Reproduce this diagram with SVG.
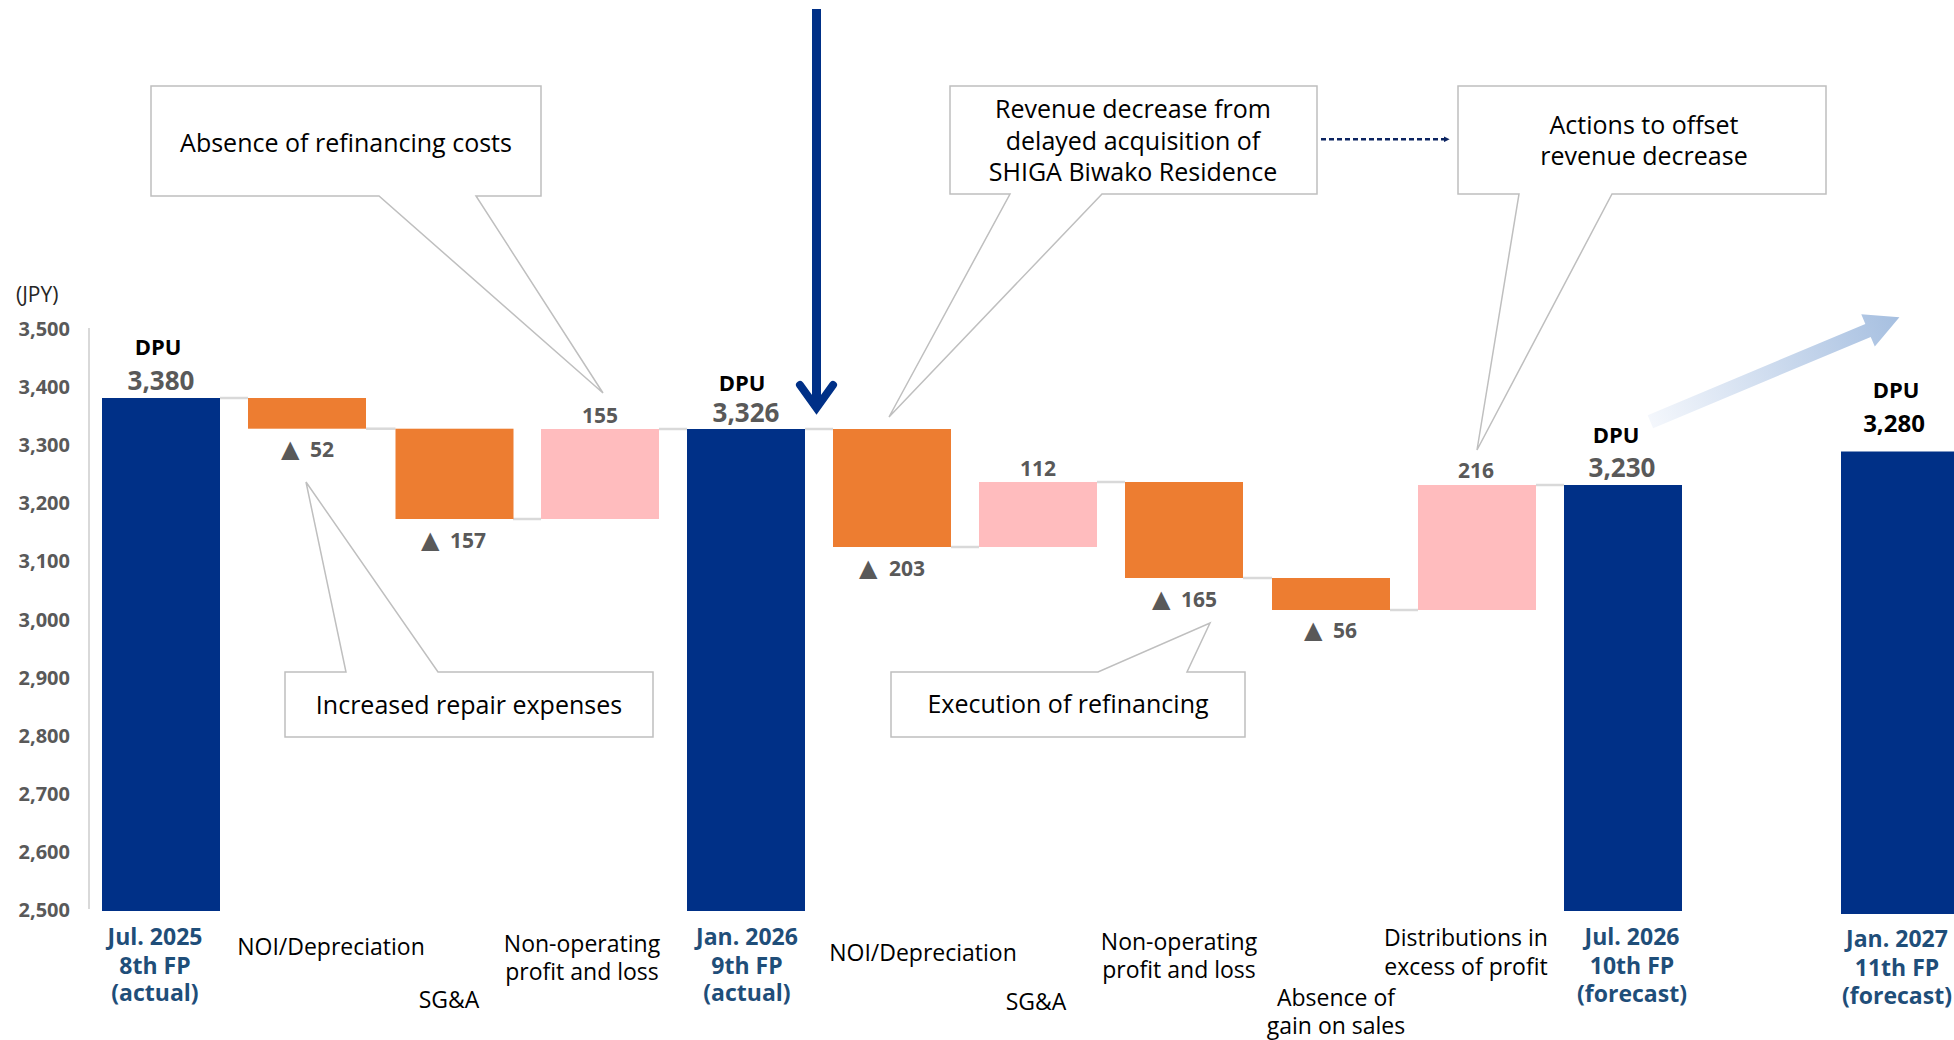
<svg xmlns="http://www.w3.org/2000/svg" width="1954" height="1040" viewBox="0 0 1954 1040">
<style>
text{font-family:'Open Sans','Noto Sans','DejaVu Sans',sans-serif}
.ax{font-size:20px;font-weight:700;fill:#595959;text-anchor:end}
.navy{fill:#003087}
.org{fill:#ED7D31}
.pink{fill:#FFBCBE}
.val{font-size:21px;font-weight:700;fill:#595959}
.tri{font-family:'DejaVu Sans',sans-serif;font-size:24px;fill:#595959}
.dpu{font-size:22px;font-weight:700;fill:#000;text-anchor:middle}
.dpuv{font-size:26px;font-weight:700;fill:#595959;text-anchor:middle}
.cat{font-size:23px;font-weight:700;fill:#1F4E79;text-anchor:middle}
.lbl{font-size:23px;fill:#000;text-anchor:middle}
.co{fill:#fff;stroke:#BFBFBF;stroke-width:1.5}
.cot{font-size:25px;fill:#000;text-anchor:middle}
.step{stroke:#D9D9D9;stroke-width:2.5}
</style>
<defs>
<marker id="dh" viewBox="0 0 10 10" refX="9" refY="5" markerWidth="6" markerHeight="6" markerUnits="userSpaceOnUse" orient="auto">
<path d="M0,0 L10,5 L0,10 Z" fill="#0C2461"/>
</marker>
<linearGradient id="gr" x1="0" y1="0" x2="1" y2="0">
<stop offset="0" stop-color="#F4F7FC"/>
<stop offset="1" stop-color="#A6BFE0"/>
</linearGradient>
</defs>
<rect width="1954" height="1040" fill="#fff"/>

<g id="axis">
<line x1="89" y1="328" x2="89" y2="909" stroke="#D9D9D9" stroke-width="2"/>
<text x="16" y="302" font-size="21" fill="#262626">(JPY)</text>
<text class="ax" x="70" y="336">3,500</text>
<text class="ax" x="70" y="394">3,400</text>
<text class="ax" x="70" y="452">3,300</text>
<text class="ax" x="70" y="510">3,200</text>
<text class="ax" x="70" y="568">3,100</text>
<text class="ax" x="70" y="627">3,000</text>
<text class="ax" x="70" y="685">2,900</text>
<text class="ax" x="70" y="743">2,800</text>
<text class="ax" x="70" y="801">2,700</text>
<text class="ax" x="70" y="859">2,600</text>
<text class="ax" x="70" y="917">2,500</text>
</g>

<g id="connectors">
<line class="step" x1="220" y1="398" x2="248" y2="398"/>
<line class="step" x1="366" y1="428.7" x2="395.5" y2="428.7"/>
<line class="step" x1="513" y1="519" x2="541" y2="519"/>
<line class="step" x1="659" y1="429" x2="687" y2="429"/>
<line class="step" x1="805" y1="429" x2="833" y2="429"/>
<line class="step" x1="951" y1="547" x2="979" y2="547"/>
<line class="step" x1="1097" y1="482" x2="1125" y2="482"/>
<line class="step" x1="1243" y1="578" x2="1272" y2="578"/>
<line class="step" x1="1390" y1="610" x2="1418" y2="610"/>
<line class="step" x1="1536" y1="485" x2="1564" y2="485"/>
<line x1="1321" y1="139.3" x2="1449" y2="139.3" stroke="#0C2461" stroke-width="2.5" stroke-dasharray="5 3" marker-end="url(#dh)"/>
<g id="down-arrow">
<line x1="816.5" y1="9" x2="816.5" y2="406" stroke="#003087" stroke-width="9"/>
<polyline points="800,385 816.5,408 833,385" fill="none" stroke="#003087" stroke-width="8" stroke-linecap="round" stroke-linejoin="miter"/>
</g>
<polygon transform="translate(1650.4,421.7) rotate(-22.75)" points="0,-7 236,-7 236,-17.5 270,0 236,17.5 236,7 0,7" fill="url(#gr)"/>
</g>

<g id="bar-jul2025">
<rect class="navy" x="102" y="398" width="118" height="513"/>
<text class="dpu" x="158" y="355">DPU</text>
<text class="dpuv" x="161" y="390">3,380</text>
<text class="cat" x="155"><tspan x="155" y="945">Jul. 2025</tspan><tspan x="155" y="973.5">8th FP</tspan><tspan x="155" y="1001">(actual)</tspan></text>
</g>
<g id="bar-noi1">
<rect class="org" x="248" y="398" width="118" height="30.7"/>
<text class="tri" x="281" y="457">▲</text><text class="val" x="310" y="457">52</text>
<text class="lbl" x="331" y="955">NOI/Depreciation</text>
</g>
<g id="bar-sga1">
<rect class="org" x="395.5" y="428.7" width="118" height="90.3"/>
<text class="tri" x="421" y="548">▲</text><text class="val" x="450" y="548">157</text>
<text class="lbl" x="449" y="1008">SG&amp;A</text>
</g>
<g id="bar-nonop1">
<rect class="pink" x="541" y="429" width="118" height="90"/>
<text class="val" x="600" y="423" text-anchor="middle">155</text>
<text class="lbl" x="582"><tspan x="582" y="952">Non-operating</tspan><tspan x="582" y="980">profit and loss</tspan></text>
</g>
<g id="bar-jan2026">
<rect class="navy" x="687" y="429" width="118" height="482"/>
<text class="dpu" x="742" y="391">DPU</text>
<text class="dpuv" x="746" y="422">3,326</text>
<text class="cat" x="747"><tspan x="747" y="945">Jan. 2026</tspan><tspan x="747" y="973.5">9th FP</tspan><tspan x="747" y="1001">(actual)</tspan></text>
</g>
<g id="bar-noi2">
<rect class="org" x="833" y="429" width="118" height="118"/>
<text class="tri" x="859" y="576">▲</text><text class="val" x="889" y="576">203</text>
<text class="lbl" x="923" y="961">NOI/Depreciation</text>
</g>
<g id="bar-sga2">
<rect class="pink" x="979" y="482" width="118" height="65"/>
<text class="val" x="1038" y="476" text-anchor="middle">112</text>
<text class="lbl" x="1036" y="1010">SG&amp;A</text>
</g>
<g id="bar-nonop2">
<rect class="org" x="1125" y="482" width="118" height="96"/>
<text class="tri" x="1152" y="607">▲</text><text class="val" x="1181" y="607">165</text>
<text class="lbl" x="1179"><tspan x="1179" y="950">Non-operating</tspan><tspan x="1179" y="978">profit and loss</tspan></text>
</g>
<g id="bar-gain">
<rect class="org" x="1272" y="578" width="118" height="32"/>
<text class="tri" x="1304" y="638">▲</text><text class="val" x="1333" y="638">56</text>
<text class="lbl" x="1336"><tspan x="1336" y="1006">Absence of</tspan><tspan x="1336" y="1034">gain on sales</tspan></text>
</g>
<g id="bar-dist">
<rect class="pink" x="1418" y="485" width="118" height="125"/>
<text class="val" x="1476" y="478" text-anchor="middle">216</text>
<text class="lbl" x="1466"><tspan x="1466" y="946">Distributions in</tspan><tspan x="1466" y="975">excess of profit</tspan></text>
</g>
<g id="bar-jul2026">
<rect class="navy" x="1564" y="485" width="118" height="426"/>
<text class="dpu" x="1616" y="443">DPU</text>
<text class="dpuv" x="1622" y="477">3,230</text>
<text class="cat" x="1632"><tspan x="1632" y="945">Jul. 2026</tspan><tspan x="1632" y="974">10th FP</tspan><tspan x="1632" y="1002">(forecast)</tspan></text>
</g>
<g id="bar-jan2027">
<rect class="navy" x="1841" y="451.5" width="113" height="462.5"/>
<text class="dpu" x="1896" y="398">DPU</text>
<text class="dpuv" x="1894" y="432" style="fill:#000;font-size:24px">3,280</text>
<text class="cat" x="1897"><tspan x="1897" y="947">Jan. 2027</tspan><tspan x="1897" y="976">11th FP</tspan><tspan x="1897" y="1004">(forecast)</tspan></text>
</g>

<g id="callout-refi-costs">
<path class="co" d="M151,86 H541 V196 H476 L603,393 L379,196 H151 Z"/>
<text class="cot" x="346" y="152">Absence of refinancing costs</text>
</g>
<g id="callout-repair">
<path class="co" d="M285,672 H346 L306,482 L438,672 H653 V737 H285 Z"/>
<text class="cot" x="469" y="714">Increased repair expenses</text>
</g>
<g id="callout-shiga">
<path class="co" d="M950,86 H1317 V194 H1102 L889,417 L1010,194 H950 Z"/>
<text class="cot" x="1133"><tspan x="1133" y="118">Revenue decrease from</tspan><tspan x="1133" y="149.5">delayed acquisition of</tspan><tspan x="1133" y="181">SHIGA Biwako Residence</tspan></text>
</g>
<g id="callout-offset">
<path class="co" d="M1458,86 H1826 V194 H1612 L1477,450 L1519,194 H1458 Z"/>
<text class="cot" x="1644"><tspan x="1644" y="133.5">Actions to offset</tspan><tspan x="1644" y="165">revenue decrease</tspan></text>
</g>
<g id="callout-exec-refi">
<path class="co" d="M891,672 H1098 L1210,623 L1187,672 H1245 V737 H891 Z"/>
<text class="cot" x="1068" y="713">Execution of refinancing</text>
</g>
</svg>
